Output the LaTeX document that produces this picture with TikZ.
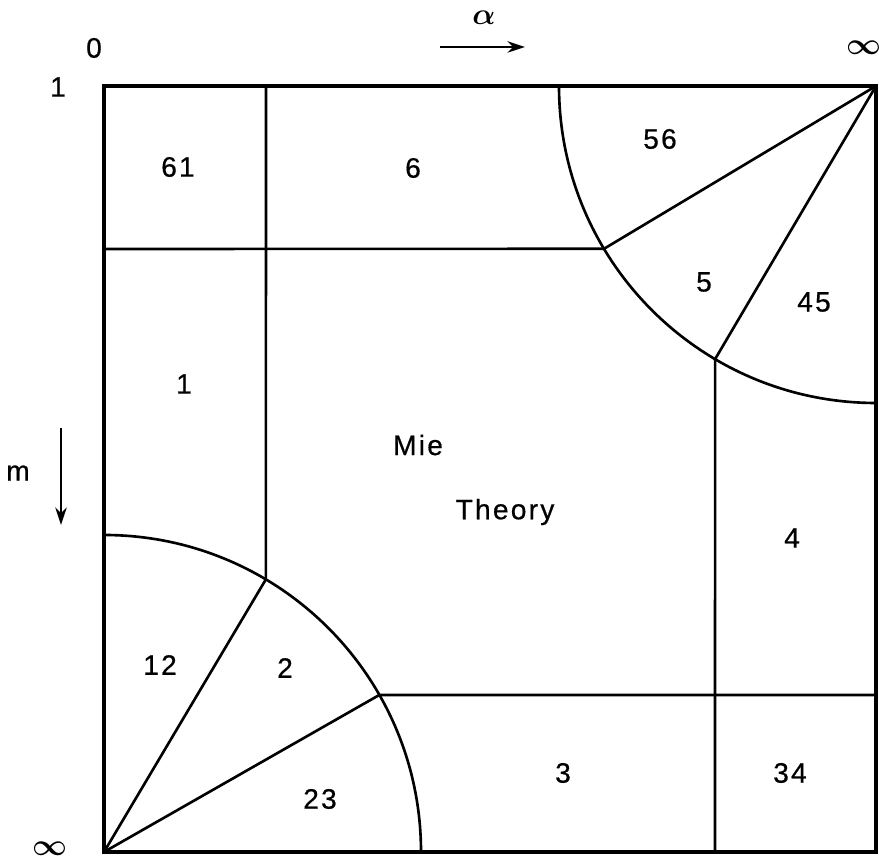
\documentclass[tikz,border=0pt]{standalone}
\usepackage{amsmath}
\usepackage{fontspec}
\setmainfont{Liberation Sans}[LetterSpace=8, FakeBold=0.6]
\usetikzlibrary{arrows.meta}
\begin{document}
\begin{tikzpicture}[x=0.02cm, y=0.02cm, font=\fontsize{16}{19}\selectfont,
    edge/.style={line width=1.5pt},
    frame/.style={line width=2.1pt},
    dirarrow/.style={line width=1.5pt, -{Stealth[length=10pt,width=6.5pt]}}]
    \useasboundingbox (0,0) rectangle (879,861);

    % Define corners and crossing points
    \coordinate (BL) at (104,9); \coordinate (TR) at (876,775);
    \coordinate (TL) at (104,775); \coordinate (BR) at (876,9);
    \coordinate (P1) at ([shift={(TR)}] 210.9:317);
    \coordinate (P2) at ([shift={(TR)}] 239.5:317);
    \coordinate (Q1) at ([shift={(BL)}] 59.3:317);
    \coordinate (Q2) at ([shift={(BL)}] 29.7:317);
    \coordinate (V1) at (266,775); \coordinate (H1) at (104,612);
    \coordinate (V2) at (715,9); \coordinate (H2) at (876,166);

    % Draw frame and region borders
    \draw[frame] (BL) rectangle (TR);
    \draw[edge] (V1) -- (Q1);
    \draw[edge] (H1) -- (P1);
    \draw[edge] (P2) -- (V2);
    \draw[edge] (Q2) -- (H2);
    \draw[edge] (TR) -- (P1); \draw[edge] (TR) -- (P2);
    \draw[edge] (BL) -- (Q1); \draw[edge] (BL) -- (Q2);
    \draw[edge] (559,775) arc[start angle=180, end angle=270, radius=317];
    \draw[edge] (421,9) arc[start angle=0, end angle=90, radius=317];

    % Axis labels
    \node (zero) at (94,813) {0};
    \node (inftop) at (864,813) {$\boldsymbol{\infty}$};
    \node (one) at (58,774) {1};
    \node (infbot) at (50,12) {$\boldsymbol{\infty}$};
    \node (alpha) at (484,843) {$\boldsymbol{\alpha}$};
    \coordinate (a1) at (440,814); \coordinate (a2) at (525,814);
    \draw[dirarrow] (a1) -- (a2);
    \node (m) at (18,388) {m};
    \coordinate (m1) at (61,433); \coordinate (m2) at (61,336);
    \draw[dirarrow] (m1) -- (m2);

    % Region labels
    \node (r61) at (178,694) {61};
    \node (r6) at (413,693) {6};
    \node (r56) at (660,722) {56};
    \node (r5) at (704,579) {5};
    \node (r45) at (814,559) {45};
    \node (r1) at (184,477) {1};
    \node (mie) at (418,416) {Mie};
    \node (theory) at (505,349) {Theory};
    \node (r4) at (792,323) {4};
    \node (r12) at (160,196) {12};
    \node (r2) at (285,193) {2};
    \node (r3) at (563,88) {3};
    \node (r34) at (790,88) {34};
    \node (r23) at (320,62) {23};
\end{tikzpicture}
\end{document}
